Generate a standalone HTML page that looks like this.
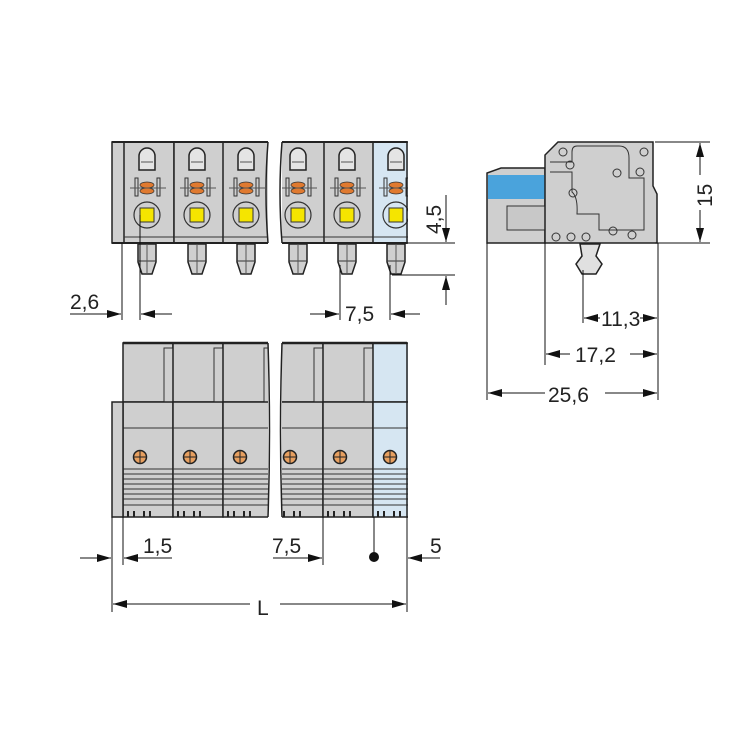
<!DOCTYPE html><html><head><style>body{margin:0;background:#fff}svg{display:block}text{font-family:"Liberation Sans",sans-serif;font-size:21px;fill:#222}</style></head><body>
<svg width="750" height="750" viewBox="0 0 750 750" xmlns="http://www.w3.org/2000/svg">
<defs>
<marker id="a" markerWidth="14" markerHeight="8" refX="14" refY="4" orient="auto" markerUnits="userSpaceOnUse"><path d="M0,0L14,4L0,8z" fill="#111"/></marker>
<g id="mod">
<rect x="-23" y="0" width="50" height="101" style="fill:var(--f,#cfcfcf)" stroke="#222" stroke-width="1.5"/>
<path d="M-8,28v-14a8,8 0 0 1 16,0v14z" fill="#e4e4e4" stroke="#222" stroke-width="1.5"/>
<line x1="-6" y1="20" x2="6" y2="20" stroke="#555"/>
<rect x="-12" y="36" width="3" height="18" fill="none" stroke="#333"/><rect x="10" y="36" width="3" height="18" fill="none" stroke="#333"/>
<ellipse cx="0" cy="43" rx="7" ry="3" fill="#e07a30" stroke="#333" stroke-width=".7"/><ellipse cx="0" cy="49" rx="7" ry="3" fill="#e07a30" stroke="#333" stroke-width=".7"/>
<line x1="-17" y1="46" x2="19" y2="46" stroke="#555"/>
<circle cx="0" cy="73" r="13" fill="none" stroke="#333" stroke-width="1.2"/>
<rect x="-7" y="66" width="14" height="14" fill="#f5e500" stroke="#333"/>
<line x1="-23" y1="95" x2="27" y2="95" stroke="#333"/>
<path d="M-9,102h18v18l-4,12h-10l-4,-12z" fill="#cfcfcf" stroke="#222" stroke-width="1.5"/>
<line x1="-9" y1="119" x2="9" y2="119" stroke="#333"/><line x1="0" y1="102" x2="0" y2="132" stroke="#555"/>
</g>
<g id="fm">
<rect x="-17" y="0" width="50" height="59" style="fill:var(--f,#cfcfcf)" stroke="#222" stroke-width="1.5"/>
<rect x="24" y="5" width="9" height="54" style="fill:var(--f,#cfcfcf)" stroke="#333"/>
<rect x="-17" y="59" width="50" height="115" style="fill:var(--f,#cfcfcf)" stroke="#222" stroke-width="1.5"/>
<line x1="-17" y1="85" x2="33" y2="85" stroke="#333"/>
<circle cx="0" cy="114" r="6.5" fill="#e8a060" stroke="#222" stroke-width="1.5"/>
<line x1="-6" y1="114" x2="6" y2="114" stroke="#222"/><line x1="0" y1="108" x2="0" y2="120" stroke="#222"/>
<path d="M-17,126h50M-17,131h50M-17,136h50M-17,141h50M-17,146h50M-17,151h50M-17,156h50M-17,162h50" stroke="#333" stroke-width="1"/>
<path d="M-12,168v6M-6,168v6M4,168v6M10,168v6" stroke="#222" stroke-width="2"/>
</g>
</defs>
<!-- top view -->
<rect x="112" y="142" width="156" height="101" fill="#cfcfcf" stroke="#222" stroke-width="1.5"/>
<rect x="282" y="142" width="125" height="101" fill="#cfcfcf" stroke="#222" stroke-width="1.5"/>
<use href="#mod" x="147" y="142"/><use href="#mod" x="197" y="142"/><use href="#mod" x="246" y="142"/>
<use href="#mod" x="298" y="142"/><use href="#mod" x="347" y="142"/>
<use href="#mod" x="396" y="142" style="--f:#d6e6f2"/>
<rect x="408" y="138" width="20" height="110" fill="#fff"/>
<line x1="407" y1="142" x2="407" y2="243" stroke="#222" stroke-width="1.5"/>
<rect x="268" y="138" width="14" height="140" fill="#fff"/>
<path d="M268,142q-4,50 0,101M282,142q-4,50 0,101" fill="none" stroke="#222" stroke-width="1.5"/>
<path d="M112,142h156M282,142h125M112,243h156M282,243h125" stroke="#222" stroke-width="2"/>
<!-- dims top -->
<g stroke="#111" stroke-width="1" fill="none">
<line x1="122" y1="243" x2="122" y2="320"/><line x1="140" y1="215" x2="140" y2="320"/>
<line x1="70" y1="314" x2="121" y2="314" marker-end="url(#a)"/><line x1="172" y1="314" x2="141" y2="314" marker-end="url(#a)"/>
<line x1="340" y1="265" x2="340" y2="320"/><line x1="390" y1="265" x2="390" y2="320"/>
<line x1="310" y1="314" x2="339" y2="314" marker-end="url(#a)"/><line x1="420" y1="314" x2="391" y2="314" marker-end="url(#a)"/>
<line x1="407" y1="243" x2="455" y2="243"/><line x1="392" y1="275" x2="455" y2="275"/>
<line x1="446" y1="195" x2="446" y2="242" marker-end="url(#a)"/><line x1="446" y1="305" x2="446" y2="276" marker-end="url(#a)"/>
</g>
<text x="70" y="309">2,6</text><text x="345" y="321">7,5</text>
<text transform="translate(441,234) rotate(-90)">4,5</text>
<!-- front view -->
<use href="#fm" x="140" y="343"/><use href="#fm" x="190" y="343"/><use href="#fm" x="240" y="343"/>
<use href="#fm" x="290" y="343"/><use href="#fm" x="340" y="343"/>
<use href="#fm" x="390" y="343" style="--f:#d6e6f2"/>
<rect x="408" y="338" width="20" height="185" fill="#fff"/>
<line x1="407" y1="343" x2="407" y2="517" stroke="#222" stroke-width="1.5"/>
<rect x="112" y="402" width="11" height="115" fill="#cfcfcf" stroke="#222" stroke-width="1.5"/>
<rect x="268" y="338" width="14" height="185" fill="#fff"/>
<path d="M268,343q3,90 0,174M282,343q-3,90 0,174" fill="none" stroke="#222" stroke-width="1.5"/>
<path d="M123,343h145M282,343h125" stroke="#222" stroke-width="2.5"/>
<g stroke="#111" stroke-width="1" fill="none">
<line x1="112" y1="517" x2="112" y2="612"/><line x1="123" y1="517" x2="123" y2="565"/>
<line x1="80" y1="558" x2="111" y2="558" marker-end="url(#a)"/><line x1="172" y1="558" x2="124" y2="558" marker-end="url(#a)"/>
<line x1="323" y1="517" x2="323" y2="565"/><line x1="273" y1="558" x2="322" y2="558" marker-end="url(#a)"/>
<line x1="374" y1="517" x2="374" y2="555"/>
<line x1="407" y1="517" x2="407" y2="612"/><line x1="440" y1="558" x2="408" y2="558" marker-end="url(#a)"/>
<line x1="250" y1="604" x2="113" y2="604" marker-end="url(#a)"/><line x1="280" y1="604" x2="406" y2="604" marker-end="url(#a)"/>
</g>
<circle cx="374" cy="557" r="5" fill="#111"/>
<text x="143" y="553">1,5</text><text x="272" y="553">7,5</text><text x="430" y="553">5</text><text x="257" y="615">L</text>
<!-- side view -->
<path d="M487,243v-70l14,-5h44v75z" fill="#cfcfcf" stroke="#222" stroke-width="1.5"/>
<rect x="488" y="175" width="57" height="24" fill="#4aa3dc"/>
<rect x="507" y="206" width="38" height="24" fill="#c8c8c8" stroke="#333"/>
<path d="M545,243v-88l13,-13h95v44l4,8v49z" fill="#cfcfcf" stroke="#222" stroke-width="1.5"/>
<path d="M550,172h22v20q6,5 5,22l22,0v16h45v-52h-15v-20q0,-12 -10,-12h-42q-5,0 -5,6v10h-22" fill="none" stroke="#333"/>
<g fill="none" stroke="#333"><circle cx="563" cy="152" r="4"/><circle cx="570" cy="165" r="4"/><circle cx="573" cy="193" r="4"/><circle cx="617" cy="173" r="4"/><circle cx="640" cy="172" r="4"/><circle cx="644" cy="152" r="4"/><circle cx="556" cy="237" r="4"/><circle cx="571" cy="237" r="4"/><circle cx="586" cy="237" r="4"/><circle cx="613" cy="231" r="4"/><circle cx="632" cy="235" r="4"/></g>
<path d="M580,244h20l-4,12l6,8l-6,10h-14l-6,-10l6,-8z" fill="#e0e0e0" stroke="#222" stroke-width="1.5"/>
<g stroke="#111" stroke-width="1" fill="none">
<line x1="655" y1="142" x2="710" y2="142"/><line x1="655" y1="243" x2="710" y2="243"/>
<line x1="700" y1="175" x2="700" y2="143" marker-end="url(#a)"/><line x1="700" y1="210" x2="700" y2="242" marker-end="url(#a)"/>
<line x1="487" y1="243" x2="487" y2="400"/><line x1="545" y1="243" x2="545" y2="365"/><line x1="583" y1="270" x2="583" y2="323"/><line x1="658" y1="243" x2="658" y2="400"/>
<line x1="600" y1="318" x2="584" y2="318" marker-end="url(#a)"/><line x1="640" y1="318" x2="657" y2="318" marker-end="url(#a)"/>
<line x1="570" y1="354" x2="546" y2="354" marker-end="url(#a)"/><line x1="630" y1="354" x2="657" y2="354" marker-end="url(#a)"/>
<line x1="545" y1="393" x2="488" y2="393" marker-end="url(#a)"/><line x1="605" y1="393" x2="657" y2="393" marker-end="url(#a)"/>
</g>
<text x="601" y="326">11,3</text><text x="575" y="362">17,2</text><text x="548" y="402">25,6</text>
<text transform="translate(712,207) rotate(-90)">15</text>
</svg></body></html>
